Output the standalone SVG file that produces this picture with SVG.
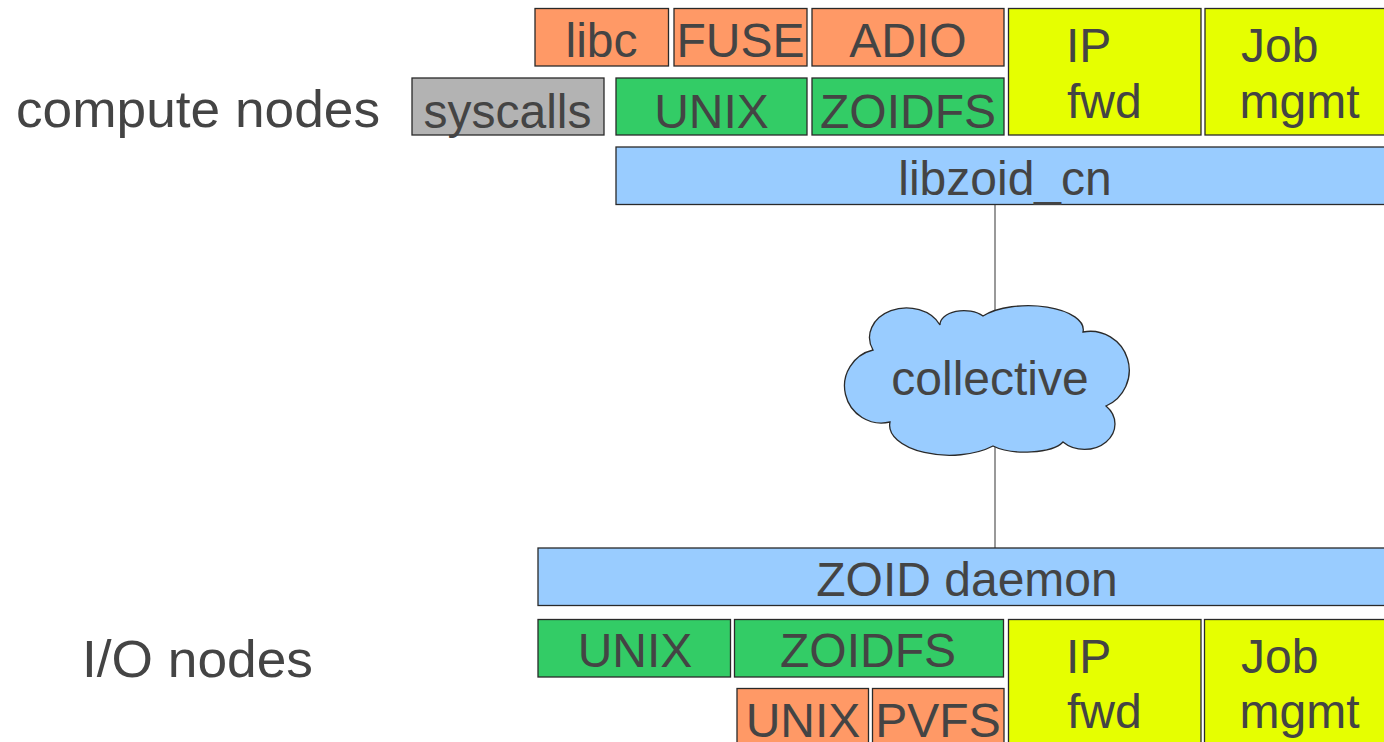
<svg xmlns="http://www.w3.org/2000/svg" width="1384" height="742" viewBox="0 0 1384 742">
<style>
  .box { stroke: #2a2a2a; stroke-width: 1.3; }
  .orange { fill: #FF9966; }
  .green { fill: #33CC66; }
  .yellow { fill: #E6FF00; }
  .blue { fill: #99CCFF; }
  .gray { fill: #B3B3B3; }
  text { font-family: "Liberation Sans", Arial, sans-serif; fill: #444444; }
  .t { font-size: 48px; text-anchor: middle; }
  .tl { font-size: 48px; text-anchor: start; }
  .lbl { font-size: 52px; }
  .conn { stroke: #555555; stroke-width: 1.2; fill: none; }
</style>
<rect width="1384" height="742" fill="#ffffff"/>
<g id="connectors">
  <line class="conn" x1="995" y1="205" x2="995" y2="548"/>
</g>
<g id="label-compute"><text class="lbl" x="16" y="127" textLength="364" lengthAdjust="spacingAndGlyphs">compute nodes</text></g>
<g id="label-io"><text class="lbl" x="82" y="677" textLength="231" lengthAdjust="spacingAndGlyphs">I/O nodes</text></g>

<g id="cn-libc"><rect class="box orange" x="535" y="8.5" width="133.5" height="57.5"/><text class="t" x="601.5" y="57">libc</text></g>
<g id="cn-fuse"><rect class="box orange" x="674" y="8.5" width="133" height="57.5"/><text class="t" x="740.5" y="57">FUSE</text></g>
<g id="cn-adio"><rect class="box orange" x="812" y="8.5" width="192" height="57.5"/><text class="t" x="908" y="57">ADIO</text></g>
<g id="cn-ipfwd"><rect class="box yellow" x="1008.5" y="8.5" width="192.5" height="126.5"/><text class="tl" x="1066" y="62">IP</text><text class="tl" x="1067" y="118">fwd</text></g>
<g id="cn-jobmgmt"><rect class="box yellow" x="1205" y="8.5" width="190" height="126.5"/><text class="tl" x="1241" y="62">Job</text><text class="tl" x="1239.5" y="118">mgmt</text></g>
<g id="cn-syscalls"><rect class="box gray" x="412" y="78" width="192" height="57"/><text class="t" x="507.5" y="128">syscalls</text></g>
<g id="cn-unix"><rect class="box green" x="616" y="78" width="191" height="57"/><text class="t" x="711.5" y="128">UNIX</text></g>
<g id="cn-zoidfs"><rect class="box green" x="812" y="78" width="192" height="57"/><text class="t" x="908" y="128">ZOIDFS</text></g>
<g id="cn-libzoid"><rect class="box blue" x="616" y="147" width="790" height="57.5"/><text class="t" x="1005" y="195">libzoid_cn</text></g>

<g id="collective">
  <path class="box blue" d="M 873 350 A 35 28 0 0 1 940 325 A 24 14 0 0 1 983 316 A 55 24 0 0 1 1083 332 A 39 39 0 0 1 1106 406 A 30 25 0 0 1 1063 442 A 40 15 0 0 1 993 446 A 60 30 0 0 1 890 422 A 36 36 0 0 1 873 350 Z"/>
  <text class="t" x="990" y="395">collective</text>
</g>

<g id="io-daemon"><rect class="box blue" x="538" y="548" width="860" height="57.5"/><text class="t" x="967" y="596">ZOID daemon</text></g>
<g id="io-unix"><rect class="box green" x="538" y="619.5" width="192.5" height="57.5"/><text class="t" x="635" y="667">UNIX</text></g>
<g id="io-zoidfs"><rect class="box green" x="734.5" y="619.5" width="269" height="57.5"/><text class="t" x="868" y="667">ZOIDFS</text></g>
<g id="io-unix2"><rect class="box orange" x="737" y="688.5" width="131.5" height="70"/><text class="t" x="803" y="737">UNIX</text></g>
<g id="io-pvfs"><rect class="box orange" x="872.5" y="688.5" width="131.5" height="70"/><text class="t" x="938" y="737">PVFS</text></g>
<g id="io-ipfwd"><rect class="box yellow" x="1008.5" y="619.5" width="192.5" height="140"/><text class="tl" x="1066" y="673">IP</text><text class="tl" x="1067" y="728">fwd</text></g>
<g id="io-jobmgmt"><rect class="box yellow" x="1204.5" y="619.5" width="190" height="140"/><text class="tl" x="1241" y="673">Job</text><text class="tl" x="1239.5" y="728">mgmt</text></g>
</svg>
